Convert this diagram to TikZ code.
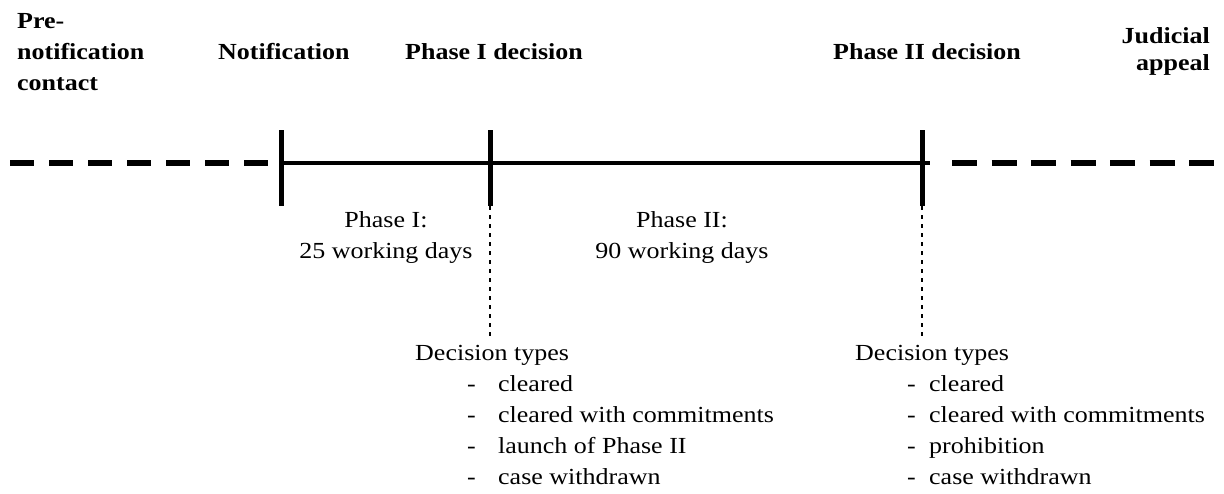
\documentclass[tikz,border=0pt]{standalone}
\usepackage{fontspec}
\setmainfont{Liberation Serif}[FakeStretch=1.13]
\usetikzlibrary{positioning}

\newcommand{\dtitem}[2][31pt]{\\\hspace*{52pt}\makebox[#1][l]{-}#2}

\begin{document}
\begin{tikzpicture}
    [x=1pt, y=-1pt, every node/.style={inner sep=0pt, font=\fontsize{23}{31}\selectfont}]
    \tikzset{stage/.style = {font=\fontsize{23}{31}\selectfont\bfseries, align=left},
             span/.style = {align=center},
             decisions/.style = {align=left},
             past/.style = {line width=5.5pt, dash pattern=on 24pt off 15pt},
             period/.style = {line width=4pt},
             tick/.style = {line width=5pt},
             link/.style = {line width=2pt, dash pattern=on 4pt off 5pt}}
    \useasboundingbox (0,0) rectangle (1224,493);

    % multi-line nodes sit on their last baseline
    \node[stage, anchor=base west] (pre) at (17,90) {Pre-\\notification\\contact};
    \node[stage, anchor=base west] (notif) at (218,59) {Notification};
    \node[stage, anchor=base west] (dec1) at (405,59) {Phase I decision};
    \node[stage, anchor=base west] (dec2) at (833,59) {Phase II decision};
    \node[stage, align=right, anchor=base east, font=\fontsize{23}{27}\selectfont\bfseries]
        (appeal) at (1210,70) {Judicial\\appeal};

    \coordinate (t0) at (10,163);
    \coordinate (t1) at (281,163);
    \coordinate (t2) at (490,163);
    \coordinate (t3) at (922,163);
    \coordinate (t4) at (1214,163);

    \draw[past] (t0) -- ([xshift=-13pt]t1);
    \draw[period] (t1) -- ([xshift=8pt]t3);
    \draw[past, dash pattern=on 25pt off 14.5pt] ([xshift=30pt]t3) -- (t4);
    \foreach \t in {t1,t2,t3}
        \draw[tick] (\t) ++(0,-33) -- ++(0,76);

    \node[span, anchor=base] (len1) at (386,258) {Phase I:\\25 working days};
    \node[span, anchor=base] (len2) at (682,258) {Phase II:\\90 working days};

    \node[decisions, anchor=base west] (types1) at (415,484)
        {Decision types\dtitem{cleared}\dtitem{cleared with commitments}\dtitem{launch of Phase II}\dtitem{case withdrawn}};
    \node[decisions, anchor=base west] (types2) at (855,484)
        {Decision types\dtitem[22pt]{cleared}\dtitem[22pt]{cleared with commitments}\dtitem[22pt]{prohibition}\dtitem[22pt]{case withdrawn}};

    \draw[link] ([yshift=-43pt]t2) -- ([yshift=9pt]t2 |- types1.north);
    \draw[link] ([yshift=-43pt]t3) -- ([yshift=9pt]t3 |- types2.north);
\end{tikzpicture}
\end{document}
